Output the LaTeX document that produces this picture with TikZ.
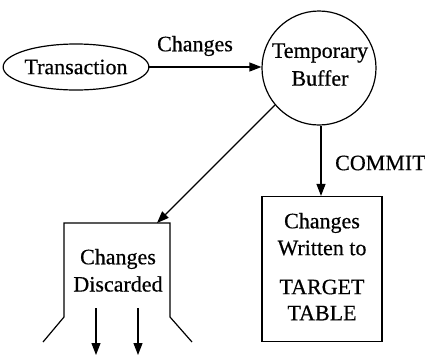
\documentclass[tikz,border=0pt]{standalone}
\usepackage{fontspec}
\setmainfont{Liberation Serif}[BoldFont={Liberation Serif},BoldFeatures={FakeBold=0.5}]
\usetikzlibrary{arrows.meta,shapes.geometric}
\tikzset{
  lbl/.style={font=\fontsize{22}{25}\selectfont\bfseries, inner sep=0pt, align=center},
  arr/.style={line width=1.2pt, -{Triangle[length=12pt,width=9pt]}},
  ln/.style={line width=1.2pt},
}
\begin{document}
\begin{tikzpicture}[x=1pt,y=-1pt]
\useasboundingbox (0,0) rectangle (425,354);
\node[ellipse, draw, ln, minimum width=133pt, minimum height=46pt, inner sep=0pt, lbl] (tr) at (76,67) {Transaction};
\node[circle, draw, ln, minimum size=114pt, inner sep=0pt] (buf) at (319,68) {};
\node[lbl] (b1) at (320,53) {Temporary};
\node[lbl] (b2) at (320,78) {Buffer};
\draw[arr] (tr.east |- 0,67) coordinate (a1) -- (a1 -| buf.west);
\node[lbl] (chg) at (195,46) {Changes};
% target table box
\node[draw, ln, minimum width=120pt, minimum height=145pt, inner sep=0pt] (tgt) at (322,269) {};
\node[lbl] (t1) at (322,223) {Changes};
\node[lbl] (t2) at (322,248) {Written to};
\node[lbl] (t3) at (322,287) {TARGET};
\node[lbl] (t4) at (322,313) {TABLE};
\draw[arr] (buf.south -| 321,0) coordinate (c1) -- (c1 |- tgt.north);
\node[lbl, anchor=west] (commit) at (335,163) {COMMIT};
% discarded
\draw[ln] (43,342) -- (64,317) -- (64,223) coordinate (dtl) -- (170,223) coordinate (dtr) -- (170,317) -- (192,342);
\coordinate (dtop) at (157,223);
\draw[arr] (buf.220) -- (dtop);
\node[lbl] (d1) at (118,259) {Changes};
\node[lbl] (d2) at (118,284) {Discarded};
\coordinate (o1s) at (96,308); \coordinate (o1e) at (96,355);
\coordinate (o2s) at (138,308); \coordinate (o2e) at (138,355);
\draw[arr] (o1s) -- (o1e);
\draw[arr] (o2s) -- (o2e);
\end{tikzpicture}
\end{document}
